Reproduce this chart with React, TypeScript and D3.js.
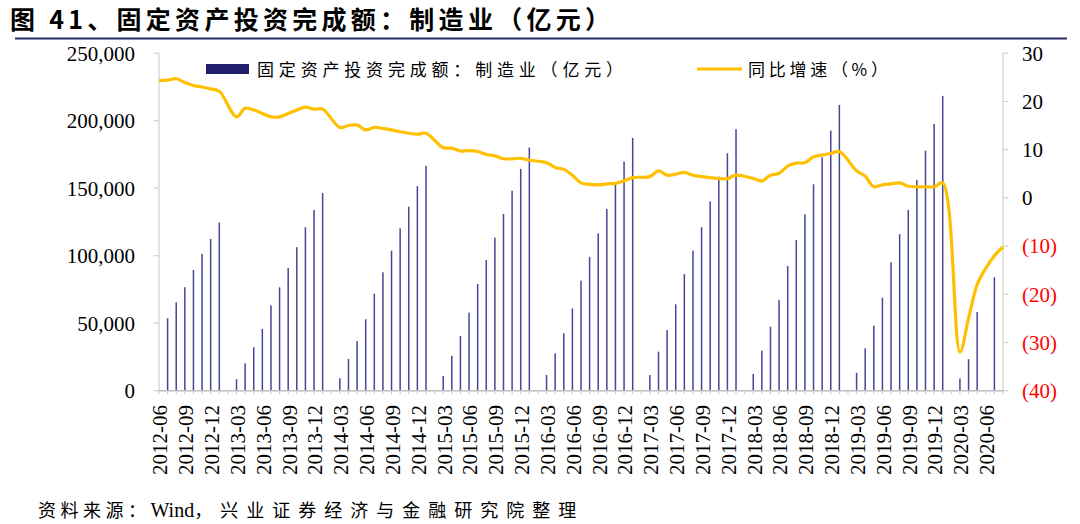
import React from "react";
import * as d3 from "d3";

// Monthly categories 2012-05 .. 2020-07
const months: string[] = [];
for (let y = 2012; y <= 2020; y++) {
  for (let m = 1; m <= 12; m++) {
    if (y === 2012 && m < 5) continue;
    if (y === 2020 && m > 7) continue;
    months.push(`${y}-${String(m).padStart(2, "0")}`);
  }
}

// Cumulative fixed-asset investment, manufacturing (亿元)
const bars2012: (number | null)[] = [null, 53600, 65500, 76600, 89400, 101300, 112400, 124500];
const bars2013: (number | null)[] = [null, 8500, 20300, 32200, 45700, 63300, 76600, 90900, 106300, 121100, 133900, 146500];
const bars2014: (number | null)[] = [null, 9200, 23500, 36800, 52900, 71900, 87700, 103700, 120300, 136300, 151500, 166500];
const bars2015: (number | null)[] = [null, 10900, 25900, 40500, 57800, 79000, 96800, 113400, 130900, 148200, 164300, 180100];
const bars2016: (number | null)[] = [null, 11600, 27700, 42500, 61000, 81500, 99100, 116600, 134600, 153200, 169700, 187200];
const bars2017: (number | null)[] = [null, 11600, 28900, 45000, 64000, 86300, 103700, 121100, 140300, 158600, 175900, 193700];
const bars2018: (number | null)[] = [null, 12400, 29600, 47400, 67200, 92400, 111700, 130700, 152900, 172900, 192700, 211700];
const bars2019: (number | null)[] = [null, 13300, 31400, 48200, 68900, 95100, 115900, 133900, 156100, 177800, 197600, 218400];
const bars2020: (number | null)[] = [null, 9000, 23300, 58300, null, 84000, null];

// Year-on-year growth (%)
const yoy2012: (number | null)[] = [24.3, 24.4, 24.7, 23.9, 23.3, 23.0, 22.6, 22.1];
const yoy2013: (number | null)[] = [null, 16.8, 18.6, 18.2, 17.5, 16.8, 16.8, 17.5, 18.2, 18.8, 18.4, 18.4];
const yoy2014: (number | null)[] = [null, 14.6, 15.0, 15.1, 14.1, 14.6, 14.4, 14.1, 13.7, 13.4, 13.2, 13.4];
const yoy2015: (number | null)[] = [null, 10.4, 10.3, 9.7, 9.8, 9.6, 9.0, 8.7, 8.1, 8.1, 8.2, 7.8];
const yoy2016: (number | null)[] = [null, 7.3, 6.3, 5.9, 4.7, 3.1, 2.8, 2.7, 2.9, 3.0, 3.5, 4.2];
const yoy2017: (number | null)[] = [null, 4.4, 5.6, 4.7, 4.9, 5.3, 4.7, 4.4, 4.2, 4.0, 4.0, 4.7];
const yoy2018: (number | null)[] = [null, 4.0, 3.5, 4.7, 5.1, 6.6, 7.2, 7.3, 8.5, 8.9, 9.2, 9.6];
const yoy2019: (number | null)[] = [null, 5.6, 4.5, 2.3, 2.7, 2.9, 3.1, 2.4, 2.3, 2.3, 2.3, 3.1];
const yoy2020: (number | null)[] = [null, -32.0, -25.0, -18.0, -14.6, -12.0, -10.2];

const barValues = [
  ...bars2012, ...bars2013, ...bars2014, ...bars2015, ...bars2016,
  ...bars2017, ...bars2018, ...bars2019, ...bars2020,
];
const yoyValues = [
  ...yoy2012, ...yoy2013, ...yoy2014, ...yoy2015, ...yoy2016,
  ...yoy2017, ...yoy2018, ...yoy2019, ...yoy2020,
];

const leftTicks = [0, 50000, 100000, 150000, 200000, 250000];
const rightTicks = [-40, -30, -20, -10, 0, 10, 20, 30];

const title = "图 41、固定资产投资完成额：制造业（亿元）";
const barLegend = "固定资产投资完成额：制造业（亿元）";
const lineLegend = "同比增速（%）";
const sourceA = "资料来源：";
const sourceB = "Wind";
const sourceC = "，兴业证券经济与金融研究院整理";

const W = 1080;
const H = 524;
const L = 159;
const R = 1003;
const B = 390.7;
const T = 53.2;

const CJK = "'Noto Sans CJK SC', sans-serif";
const SERIF = "'Liberation Serif', 'Times New Roman', serif";

export default function App() {
  const x = d3.scalePoint<string>().domain(months).range([L, R]);
  const yL = d3.scaleLinear().domain([0, 250000]).range([B, T]);
  const yR = d3.scaleLinear().domain([-40, 30]).range([B, T]);

  const linePts = months
    .map((m, i) => ({ m, v: yoyValues[i] }))
    .filter((d) => d.v !== null && d.v !== undefined) as { m: string; v: number }[];
  const lineGen = d3
    .line<{ m: string; v: number }>()
    .x((d) => x(d.m) as number)
    .y((d) => yR(d.v))
    .curve(d3.curveCatmullRom.alpha(0.5));

  const labelIdx = months.map((_, i) => i).filter((i) => i >= 1 && (i - 1) % 3 === 0);
  const fmt = d3.format(",");

  return (
    <div style={{ position: "absolute", left: 0, top: 0 }}>
      <svg width={W} height={H} style={{ display: "block", background: "#fff" }}>
        {/* title */}
        <text x={10} y={29} fontFamily={CJK} fontWeight={700} fontSize={25} fill="#000" textLength={600} lengthAdjust="spacing">
          {title}
        </text>
        <line x1={15} x2={1067} y1={38.5} y2={38.5} stroke="#262a66" strokeWidth={2.2} />

        {/* left axis */}
        <line x1={L} x2={L} y1={T} y2={B} stroke="#d0d0d0" strokeWidth={1.2} />
        {leftTicks.map((t) => (
          <g key={"l" + t}>
            <line x1={L - 5} x2={L} y1={yL(t)} y2={yL(t)} stroke="#d0d0d0" strokeWidth={1.2} />
            <text x={135} y={yL(t)} dy="0.35em" textAnchor="end" fontFamily={SERIF} fontSize={21} fill="#000">
              {fmt(t)}
            </text>
          </g>
        ))}

        {/* right axis */}
        <line x1={R} x2={R} y1={T} y2={B} stroke="#d0d0d0" strokeWidth={1.2} />
        {rightTicks.map((t) => (
          <g key={"r" + t}>
            <line x1={R} x2={R + 5} y1={yR(t)} y2={yR(t)} stroke="#d0d0d0" strokeWidth={1.2} />
            <text x={1022} y={yR(t)} dy="0.35em" textAnchor="start" fontFamily={SERIF} fontSize={21} fill={t < 0 ? "#ff0000" : "#000"}>
              {t < 0 ? `(${-t})` : `${t}`}
            </text>
          </g>
        ))}

        {/* bars */}
        {months.map((m, i) => {
          const v = barValues[i];
          if (v === null || v === undefined) return null;
          return (
            <rect key={"b" + m} x={(x(m) as number) - 0.75} y={yL(v)} width={1.5} height={yL(0) - yL(v)} fill="#45459a" />
          );
        })}

        {/* x axis */}
        <line x1={L} x2={R} y1={B} y2={B} stroke="#bdbdbd" strokeWidth={1.4} />
        {months.map((m) => (
          <line key={"t" + m} x1={x(m) as number} x2={x(m) as number} y1={B} y2={B + 3.5} stroke="#c8c8c8" strokeWidth={1} />
        ))}
        {labelIdx.map((i) => {
          const px = (x(months[i - 1]) as number) + 1;
          return (
            <text
              key={"xl" + i}
              transform={`translate(${px},405) rotate(-90)`}
              textAnchor="end"
              dy="0.35em"
              fontFamily={SERIF}
              fontSize={21}
              fill="#000"
            >
              {months[i]}
            </text>
          );
        })}

        {/* line */}
        <path d={lineGen(linePts) || ""} fill="none" stroke="#ffc000" strokeWidth={3.2} strokeLinejoin="round" />

        {/* legend */}
        <rect x={206} y={64} width={43} height={10} fill="#1f1f6e" />
        <text x={257} y={75.5} fontFamily={CJK} fontSize={17} fill="#000" textLength={366} lengthAdjust="spacing">
          {barLegend}
        </text>
        <line x1={697} x2={742} y1={69} y2={69} stroke="#ffc000" strokeWidth={3} />
        <text x={748} y={75.5} fontFamily={CJK} fontSize={17} fill="#000" textLength={140} lengthAdjust="spacing">
          {lineLegend}
        </text>

        {/* source */}
        <text x={38} y={517} fontFamily={CJK} fontSize={18} fill="#000">
          <tspan letterSpacing={4.5}>{sourceA}</tspan>
          <tspan fontFamily={SERIF} fontSize={20}>{sourceB}</tspan>
          <tspan letterSpacing={8}>{sourceC}</tspan>
        </text>
      </svg>
    </div>
  );
}
